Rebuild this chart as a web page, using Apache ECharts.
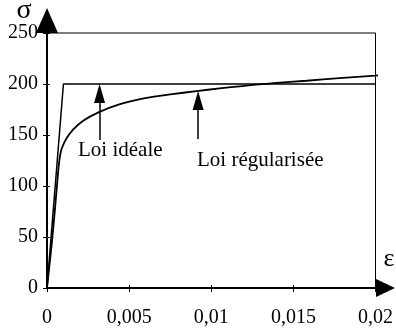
<!DOCTYPE html>
<html>
<head>
<meta charset="utf-8">
<script src="https://cdn.jsdelivr.net/npm/echarts@6/dist/echarts.min.js"></script>
<style>
html,body{margin:0;padding:0;background:#fff;}
#c{width:396px;height:332px;}
</style>
</head>
<body>
<div id="c"></div>
<script>
// Loi idéale (elastic–perfectly plastic)
const idealEps = [0, 0.001, 0.02];
const idealSig = [0, 200, 200];
// Loi régularisée
const regEps = [0, 0.0003, 0.0005, 0.0007, 0.0008, 0.0009, 0.0012, 0.0016, 0.0022, 0.0031, 0.0044, 0.0059, 0.0075, 0.0091, 0.0105, 0.0119, 0.0129, 0.0138, 0.0158, 0.0178, 0.02, 0.0204];
const regSig = [0, 45, 80, 118, 130, 137, 147, 155.5, 164, 172, 180, 185.8, 189.8, 193, 195.7, 198, 199.6, 200.8, 203.2, 205.8, 208.3, 208.8];
// tick labels
const xTickLabels = ['0', '0,005', '0,01', '0,015', '0,02'];
const yTickLabels = ['0', '50', '100', '150', '200', '250'];
// annotation arrows: x position, tail value, tip value
const arrowEps = [0.0032, 0.0092];
const arrowTail = [145, 146];
const arrowTip = [200, 193.2];
const annotTexts = ['Loi idéale', 'Loi régularisée'];

const FONT = '"Liberation Serif", serif';
const chart = echarts.init(document.getElementById('c'), null, {renderer: 'canvas'});

const zip = (a, b) => a.map((v, i) => [v, b[i]]);
const TRI_HALF = 9.3; // half arrow-head length in value units (~9.5px)

const option = {
  animation: false,
  backgroundColor: '#fff',
  textStyle: {fontFamily: FONT},
  grid: {left: 47, right: 20, top: 33, bottom: 44, show: true, borderColor: '#000', borderWidth: 1, containLabel: false},
  xAxis: [{
    type: 'value', min: 0, max: 0.02, interval: 0.005, position: 'bottom',
    axisLine: {show: true, lineStyle: {color: '#000', width: 2}, symbol: ['none', 'triangle'], symbolSize: [18, 19], symbolOffset: [0, 10]},
    axisTick: {show: true, inside: false, length: 4, lineStyle: {color: '#000', width: 1}},
    splitLine: {show: false},
    axisLabel: {margin: 20, color: '#000', fontFamily: FONT, fontSize: 20,
      formatter: v => xTickLabels[Math.round(v / 0.005)]}
  }, {
    type: 'value', min: 0, max: 0.02, interval: 0.005, position: 'bottom', gridIndex: 0,
    axisLine: {show: false}, axisTick: {show: true, inside: true, length: 3, lineStyle: {color: '#000'}},
    axisLabel: {show: false}, splitLine: {show: false}
  }],
  yAxis: [{
    type: 'value', min: 0, max: 250, interval: 50, position: 'left',
    axisLine: {show: true, lineStyle: {color: '#000', width: 2}, symbol: ['none', 'triangle'], symbolSize: [22, 25], symbolOffset: [0, 12.5]},
    axisTick: {show: true, inside: false, length: 4, lineStyle: {color: '#000', width: 1}},
    splitLine: {show: false},
    axisLabel: {margin: 9, color: '#000', fontFamily: FONT, fontSize: 20,
      formatter: v => yTickLabels[Math.round(v / 50)]}
  }, {
    type: 'value', min: 0, max: 250, interval: 50, position: 'left',
    axisLine: {show: false}, axisTick: {show: true, inside: true, length: 3, lineStyle: {color: '#000'}},
    axisLabel: {show: false}, splitLine: {show: false}
  }],
  series: [{
    name: 'Loi idéale', type: 'line', data: zip(idealEps, idealSig),
    symbol: 'none', lineStyle: {color: '#000', width: 1.5}, clip: false, silent: true,
    markLine: {
      silent: true, symbol: ['none', 'triangle'], symbolSize: [11, 19],
      label: {show: false}, lineStyle: {color: '#000', width: 1.5, type: 'solid'},
      emphasis: {disabled: true},
      data: arrowEps.map((e, i) => [{coord: [e, arrowTail[i]]}, {coord: [e, arrowTip[i] - TRI_HALF]}])
    }
  }, {
    name: 'Loi régularisée', type: 'line', data: zip(regEps, regSig), smooth: 0.2,
    symbol: 'none', lineStyle: {color: '#000', width: 1.8}, clip: false, silent: true
  }],
  graphic: [
    {type: 'text', x: 78, y: 150, style: {text: annotTexts[0], fontFamily: FONT, fontSize: 21, fill: '#000', align: 'left', verticalAlign: 'middle'}},
    {type: 'text', x: 197, y: 160, style: {text: annotTexts[1], fontFamily: FONT, fontSize: 21, fill: '#000', align: 'left', verticalAlign: 'middle'}},
    {type: 'text', x: 24, y: 11, style: {text: 'σ', fontFamily: FONT, fontSize: 28, fill: '#000', align: 'center', verticalAlign: 'middle'}},
    {type: 'text', x: 389, y: 259, style: {text: 'ε', fontFamily: FONT, fontSize: 26, fill: '#000', align: 'center', verticalAlign: 'middle'}}
  ]
};
chart.setOption(option);
</script>
</body>
</html>
